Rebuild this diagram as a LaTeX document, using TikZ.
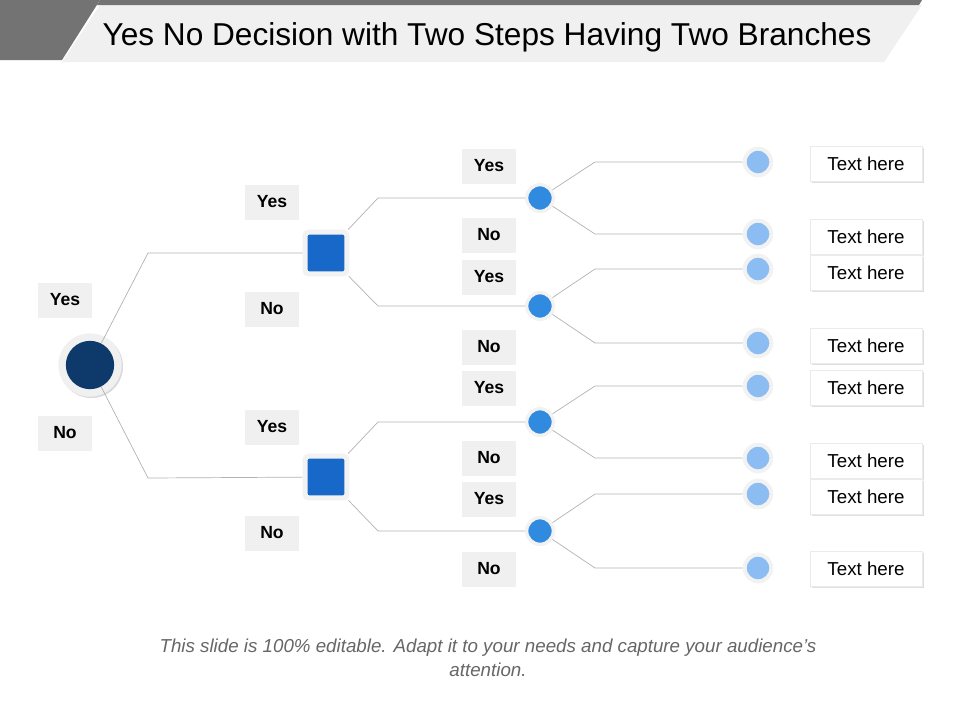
\documentclass[tikz,border=0pt]{standalone}
\usepackage{fontspec}
\setmainfont{Liberation Sans}
\usetikzlibrary{shadows}
\definecolor{rootblue}{HTML}{0E3A6B}
\definecolor{sqblue}{HTML}{1768C8}
\definecolor{midblue}{HTML}{2F8AE0}
\definecolor{leafblue}{HTML}{8CBDF2}
\definecolor{boxgray}{HTML}{F0F0F0}
\begin{document}
\begin{tikzpicture}[x=0.03cm,y=-0.03cm,
labelbox/.style={fill=boxgray, font=\fontsize{15}{18}\selectfont\bfseries, minimum height=1.05cm, minimum width=1.6cm, inner sep=0pt},
textbox/.style={fill=white, draw=black!8, drop shadow={opacity=0.25,shadow xshift=0.5mm,shadow yshift=-0.5mm}, font=\fontsize{16}{19}\selectfont, minimum height=1.05cm, minimum width=3.35cm, inner sep=0pt},
leafnode/.style={circle, fill=leafblue, draw=black!5, line width=1.2mm, minimum size=0.8cm, drop shadow={opacity=0.3,shadow xshift=0.3mm,shadow yshift=-0.3mm}},
midnode/.style={circle, fill=midblue, draw=black!5, line width=1mm, minimum size=0.8cm, drop shadow={opacity=0.3,shadow xshift=0.3mm,shadow yshift=-0.3mm}},
squarenode/.style={rectangle, rounded corners=1mm, fill=sqblue, draw=black!5, line width=1.5mm, minimum size=1.25cm, drop shadow={opacity=0.3,shadow xshift=0.4mm,shadow yshift=-0.4mm}},
branch/.style={draw=black!30, line width=0.6pt}
]
\useasboundingbox (0,0) rectangle (960,720);
%Title
\fill[black!55] (0,0) -- (100,0) -- (62,60) -- (0,60) -- cycle;
\fill[black!6] (100,5) -- (922,5) -- (884,62) -- (62,62) -- cycle;
\fill[black!55] (100,0) -- (922,0) -- (919,5) -- (97,5) -- cycle;
\node[font=\fontsize{27}{31}\selectfont] (title) at (487,37) {Yes No Decision with Two Steps Having Two Branches};

%Nodes
\node[circle, fill=black!6, minimum size=1.9cm, drop shadow={opacity=0.3,shadow xshift=0.4mm,shadow yshift=-0.4mm}] (rootring) at (90,365) {};
\node[circle, fill=rootblue, minimum size=1.45cm] (root) at (90,365) {};
\node[squarenode] (sqa) at (326,253) {};
\node[squarenode] (sqb) at (326,477) {};
\foreach \n/\y in {a/198,b/306,c/422,d/531}
  \node[midnode] (mid\n) at (540,\y) {};
\foreach \n/\y in {1/162,2/234,3/269,4/343,5/386,6/458,7/494,8/568}
  \node[leafnode] (leaf\n) at (758,\y) {};
\foreach \n/\y in {1/164,2/237,3/273,4/346,5/388,6/461,7/497,8/569}
  \node[textbox] (text\n) at (866,\y) {Text here};

%Labels
\node[labelbox] (ryes) at (65,300) {Yes};
\node[labelbox] (rno) at (65,433) {No};
\node[labelbox] (ayes) at (272,202) {Yes};
\node[labelbox] (ano) at (272,309) {No};
\node[labelbox] (byes) at (272,427) {Yes};
\node[labelbox] (bno) at (272,533) {No};
\foreach \n/\y/\t in {1/166/Yes,2/235/No,3/277/Yes,4/347/No,5/388/Yes,6/458/No,7/499/Yes,8/569/No}
  \node[labelbox] (lab\n) at (489,\y) {\t};

%Lines
\coordinate (ra) at (148,253);
\coordinate (rb) at (148,478);
\draw[branch] (root) -- (ra) -- (sqa);
\draw[branch] (root) -- (rb) -- (sqb);
\coordinate (sa1) at (378,198); \coordinate (sa2) at (378,306);
\coordinate (sb1) at (378,422); \coordinate (sb2) at (378,531);
\draw[branch] (sqa) -- (sa1) -- (mida);
\draw[branch] (sqa) -- (sa2) -- (midb);
\draw[branch] (sqb) -- (sb1) -- (midc);
\draw[branch] (sqb) -- (sb2) -- (midd);
\foreach \m/\i/\j/\ya/\yb in {a/1/2/162/234,b/3/4/269/343,c/5/6/386/458,d/7/8/494/568}{
  \draw[branch] (mid\m) -- (595,\ya) -- (leaf\i);
  \draw[branch] (mid\m) -- (595,\yb) -- (leaf\j);
}

%Footer
\node[font=\fontsize{16}{20}\selectfont\itshape, text=black!60, align=center] (foot) at (488,658)
  {This slide is 100\% editable. Adapt it to your needs and capture your audience's\\attention.};
\end{tikzpicture}
\end{document}
